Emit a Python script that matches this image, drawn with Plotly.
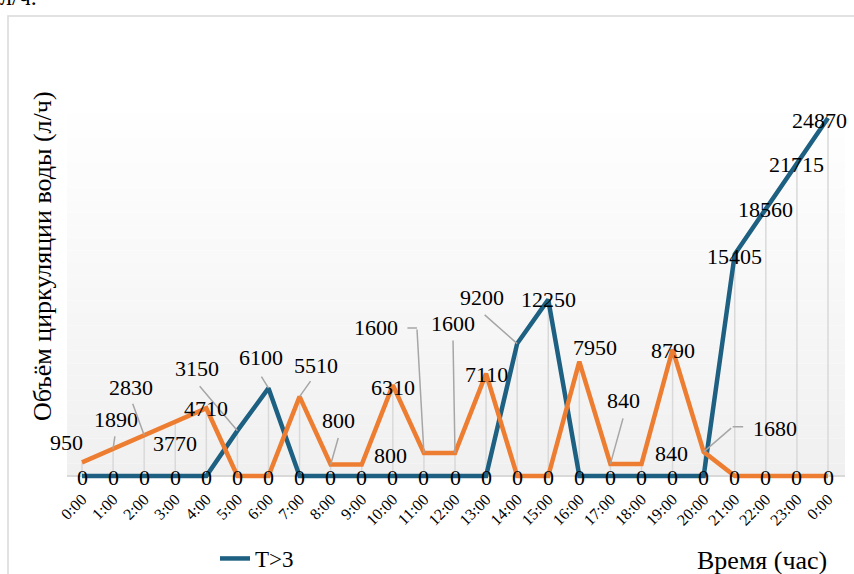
import plotly.graph_objects as go

# ---------------- data ----------------
hours = ["0:00", "1:00", "2:00", "3:00", "4:00", "5:00", "6:00", "7:00", "8:00",
         "9:00", "10:00", "11:00", "12:00", "13:00", "14:00", "15:00", "16:00",
         "17:00", "18:00", "19:00", "20:00", "21:00", "22:00", "23:00", "0:00"]
t_gt3 = [0, 0, 0, 0, 0, 3150, 6100, 0, 0, 0, 0, 0, 0, 0, 9200, 12250,
         0, 0, 0, 0, 0, 15405, 18560, 21715, 24870]
t_lt3 = [950, 1890, 2830, 3770, 4710, 0, 0, 5510, 800, 800, 6310, 1600, 1600,
         7110, 0, 0, 7950, 840, 840, 8790, 1680, 0, 0, 0, 0]
series_names = ["T>3", "T<3"]
y_title = "Объём циркуляции воды (л/ч)"
x_title = "Время (час)"

# ---------------- styles ----------------
FONT = "Liberation Serif"
BLUE = "#1d6082"
ORANGE = "#ed7d31"
GRID = "#d9d9d9"
LEADER = "#a6a6a6"

# label offsets in pixels (dx, dy_up) and optional leader polyline (offset points, up positive)
lbl_blue = {5: ((-40, 62), [(0, 0), (-39, 46)]),
            6: ((-8, 31), [(0, 0), (-8, 13)]),
            14: ((-35, 46), [(0, 0), (-34, 30)]),
            15: ((0, 0), None),
            21: ((0, -2), None), 22: ((0, -1), None), 23: ((0, -1), None),
            24: ((-9, -2), None)}
lbl_orange = {0: ((-16, 20), None),
              1: ((3, 29), [(0, 0), (2, 14)]),
              2: ((-13, 48), [(0, 0), (-12, 33)]),
              3: ((0, -22), None),
              4: ((0, 0), None),
              7: ((16, 31), [(0, 0), (12, 17)]),
              8: ((8, 44), [(0, 0), (8, 28)]),
              9: ((29, 9), None),
              10: ((0, -2), None),
              11: ((-48, 125), [(0, 0), (-7, 125), (-18, 125)]),
              12: ((-2, 129), [(0, 0), (-2, 114)]),
              13: ((0, -1), None),
              16: ((16, 14), None),
              17: ((13, 63), [(0, 0), (13, 47)]),
              18: ((30, 10), None),
              19: ((0, -1), None),
              20: ((71, 23), [(0, 0), (29, 25), (41, 25)])}
ZERO_OFF = (0, -1)

x = list(range(len(hours)))

fig = go.Figure()

# drop lines from the higher of the two series to the baseline
dx_, dy_ = [], []
for i in x:
    top = max(t_gt3[i], t_lt3[i])
    if top > 0:
        dx_ += [i, i, None]
        dy_ += [0, top, None]
fig.add_trace(go.Scatter(x=dx_, y=dy_, mode="lines", line=dict(color=GRID, width=1.5),
                         showlegend=False, hoverinfo="skip"))

fig.add_trace(go.Scatter(x=x, y=t_gt3, mode="lines", name=series_names[0],
                         line=dict(color=BLUE, width=4.5)))
fig.add_trace(go.Scatter(x=x, y=t_lt3, mode="lines", name=series_names[1],
                         line=dict(color=ORANGE, width=4.5), showlegend=False))

annotations = []
shapes = []

def add_labels(vals, offs):
    for i, v in enumerate(vals):
        if v == 0:
            (ox, oy), path = ZERO_OFF, None
        else:
            (ox, oy), path = offs.get(i, ((0, 0), None))
        if path:
            for (x0, y0), (x1, y1) in zip(path[:-1], path[1:]):
                annotations.append(dict(x=i, y=v, xref="x", yref="y", text="",
                                        xshift=x0, yshift=y0, showarrow=True,
                                        ax=x1 - x0, ay=-(y1 - y0), axref="pixel",
                                        ayref="pixel", arrowhead=0, arrowwidth=1.5,
                                        arrowcolor=LEADER, standoff=0, startstandoff=0))
        annotations.append(dict(x=i, y=v, xref="x", yref="y", text=str(v),
                                showarrow=False, xshift=ox, yshift=oy,
                                font=dict(family=FONT, size=22, color="black")))

add_labels(t_gt3, lbl_blue)
add_labels(t_lt3, lbl_orange)

W, H = 854, 574
ML, MR, MT, MB = 67, 9, 100, 88
PW, PH = W - ML - MR, H - MT - MB
def px2x(px):
    return (px - ML) / PW
def py2y(py):
    return (H - MB - py) / PH

n_bands = 30
y_lo, y_hi = py2y(476), 1.0
for k in range(n_bands):
    f = k / (n_bands - 1)
    c = int(round(0xf0 + (0xff - 0xf0) * f))
    col = f"rgb({c},{c},{c})"
    shapes.append(dict(type="rect", xref="paper", yref="paper", x0=0, x1=1,
                       y0=y_lo + (y_hi - y_lo) * k / n_bands,
                       y1=y_lo + (y_hi - y_lo) * (k + 1) / n_bands,
                       fillcolor=col, line=dict(width=0), layer="below"))

shapes.append(dict(type="rect", xref="paper", yref="paper", x0=px2x(8), x1=px2x(870),
                   y0=py2y(620), y1=py2y(16), line=dict(color=GRID, width=1.5),
                   fillcolor="rgba(0,0,0,0)", layer="below"))

annotations.append(dict(xref="paper", yref="paper", x=px2x(42), y=py2y(256),
                        xanchor="center", yanchor="middle",
                        text=y_title, textangle=-90, showarrow=False,
                        font=dict(family=FONT, size=26, color="black")))
annotations.append(dict(xref="paper", yref="paper", x=px2x(762), y=py2y(560),
                        xanchor="center", yanchor="middle",
                        text=x_title, showarrow=False,
                        font=dict(family=FONT, size=26, color="black")))
annotations.append(dict(xref="paper", yref="paper", x=px2x(-2), y=py2y(12),
                        xanchor="left", yanchor="bottom", text="л/ч.", showarrow=False,
                        font=dict(family=FONT, size=24, color="black")))

scale = (476 - 118) / max(t_gt3)
fig.update_layout(
    width=W, height=H,
    margin=dict(l=ML, r=MR, t=MT, b=MB, autoexpand=False),
    paper_bgcolor="white", plot_bgcolor="white",
    font=dict(family=FONT, color="black"),
    xaxis=dict(range=[-(82 - ML) / 31.083, 24 + (W - MR - 828) / 31.083],
               tickvals=x, ticktext=hours, tickangle=-45, showgrid=False,
               zeroline=False, showline=False, ticks="", automargin=False,
               tickfont=dict(family=FONT, size=16, color="black")),
    yaxis=dict(range=[-(H - MB - 476) / scale, (476 - MT) / scale],
               showticklabels=False, showgrid=False, zeroline=True, automargin=False,
               zerolinecolor=GRID, zerolinewidth=1.5, showline=False, ticks=""),
    legend=dict(orientation="h", x=px2x(215), y=py2y(537), xanchor="left",
                yanchor="top", font=dict(family=FONT, size=23, color="black"),
                bgcolor="rgba(0,0,0,0)"),
    annotations=annotations,
    shapes=shapes,
)

# make sure the serif face is loaded, then redraw so text uses it
post = """
var gd = document.getElementById('{plot_id}');
if (document.fonts && document.fonts.load) {
  Promise.all([document.fonts.load('22px "Liberation Serif"'),
               document.fonts.load('22px "Times New Roman"')]).then(function(){
    Plotly.redraw(gd);
  });
}
"""
fig.write_html("out.html", post_script=post)
